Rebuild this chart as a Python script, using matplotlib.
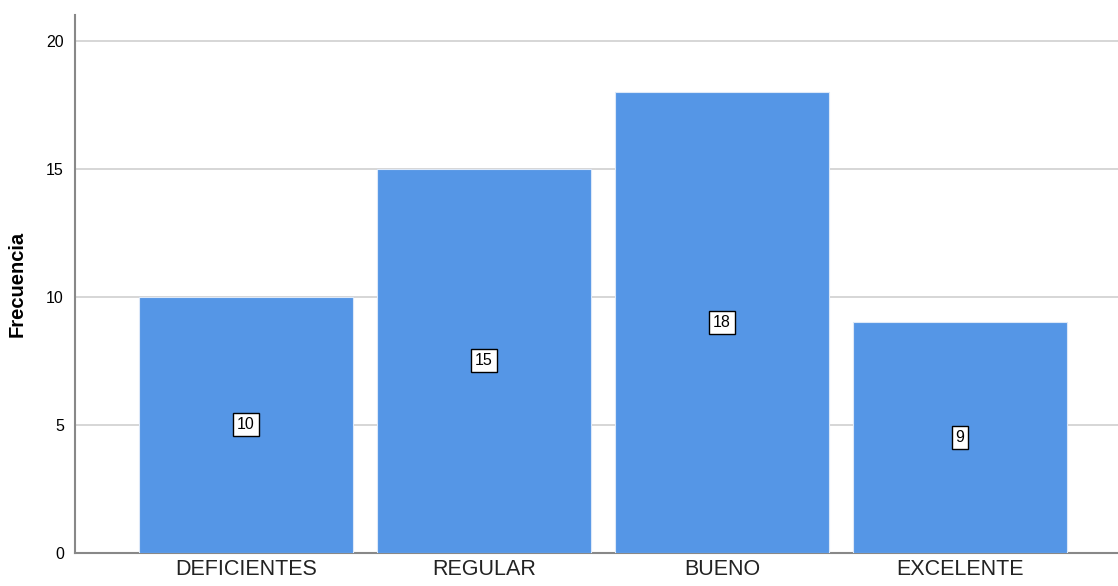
import numpy as np
import matplotlib.pyplot as plt

plt.rcParams['font.family'] = ['Liberation Sans', 'DejaVu Sans']

# datos
categorias = ['DEFICIENTES', 'REGULAR', 'BUENO', 'EXCELENTE']
frecuencia = [10, 15, 18, 9]
yticks = [0, 5, 10, 15, 20]

fig = plt.figure(figsize=(11.18, 5.86), dpi=100)
ax = fig.add_axes([75 / 1118, 33 / 586, 1 - 75 / 1118, 538 / 586])

x = np.arange(len(categorias))
bars = ax.bar(x, frecuencia, width=0.9, color='#5596e6', edgecolor='#dce8f8',
              linewidth=0.8, zorder=3)

# etiquetas en el centro de cada barra
for xi, v in zip(x, frecuencia):
    ax.text(xi, v / 2, str(v), ha='center', va='center', fontsize=11.5,
            color='black', zorder=4,
            bbox=dict(boxstyle='square,pad=0.25', fc='white', ec='black', lw=1))

ax.set_xlim(-0.718, 3.664)
ax.set_ylim(0, 21)
ax.set_yticks(yticks)
ax.set_xticks(x)
ax.set_xticklabels(categorias, fontsize=15.5, color='#222222')
ax.tick_params(axis='y', length=0, labelsize=11.5, pad=8)
ax.tick_params(axis='x', length=0, pad=4)
ax.yaxis.grid(True, color='#d0d0d0', linewidth=1.2, zorder=0)
ax.set_axisbelow(True)

for s in ['top', 'right']:
    ax.spines[s].set_visible(False)
ax.spines['left'].set_color('#888888')
ax.spines['bottom'].set_color('#888888')
ax.spines['left'].set_linewidth(1.5)
ax.spines['bottom'].set_linewidth(1.5)

ax.set_ylabel('Frecuencia', fontsize=14.5, fontweight='bold', labelpad=14)

fig.savefig('out.png', dpi=100)
